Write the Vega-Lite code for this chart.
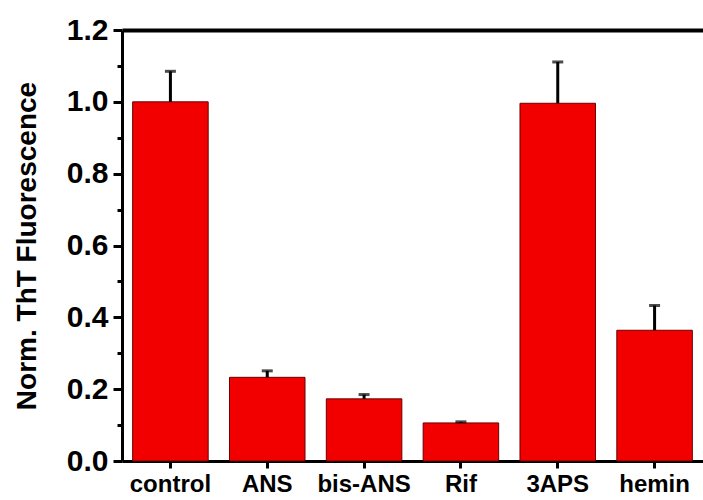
{
  "$schema": "https://vega.github.io/schema/vega-lite/v6.json",
  "autosize": "none",
  "width": 581,
  "height": 431,
  "padding": {"left": 122, "top": 30, "right": 0, "bottom": 39},
  "background": "white",
  "data": {
    "values": [
      {"sample": "control", "value": 1.0, "upper": 1.085},
      {"sample": "ANS", "value": 0.233, "upper": 0.251},
      {"sample": "bis-ANS", "value": 0.173, "upper": 0.185},
      {"sample": "Rif", "value": 0.106, "upper": 0.109},
      {"sample": "3APS", "value": 0.996, "upper": 1.111},
      {"sample": "hemin", "value": 0.364, "upper": 0.433}
    ]
  },
  "config": {
    "view": {"stroke": null},
    "font": "Liberation Sans",
    "axis": {
      "domainColor": "black",
      "domainWidth": 3,
      "tickColor": "black",
      "tickWidth": 3,
      "labelColor": "black",
      "labelFont": "Liberation Sans",
      "labelFontWeight": "bold",
      "titleFont": "Liberation Sans",
      "titleFontWeight": "bold",
      "titleColor": "black",
      "grid": false
    }
  },
  "layer": [
    {
      "mark": {"type": "bar", "color": "#f20000", "stroke": "#6a0000", "strokeWidth": 1},
      "encoding": {
        "x": {
          "field": "sample",
          "type": "nominal",
          "sort": null,
          "scale": {"paddingInner": 0.22, "paddingOuter": 0.11},
          "axis": {
            "title": null,
            "labelAngle": 0,
            "labelFontSize": 24,
            "tickSize": 7,
            "labelPadding": 4
          }
        },
        "y": {
          "field": "value",
          "type": "quantitative",
          "scale": {"domain": [0, 1.2], "nice": false},
          "axis": {
            "title": "Norm. ThT Fluorescence",
            "titleFontSize": 28,
            "titlePadding": 25,
            "values": [0, 0.2, 0.4, 0.6, 0.8, 1.0, 1.2],
            "format": ".1f",
            "labelFontSize": 30,
            "labelPadding": 5,
            "tickSize": 9
          }
        }
      }
    },
    {
      "mark": {"type": "rule", "color": "black", "strokeWidth": 3},
      "encoding": {
        "x": {"field": "sample", "type": "nominal", "sort": null, "axis": null},
        "y": {
          "field": "value",
          "type": "quantitative",
          "axis": {
            "orient": "left",
            "title": null,
            "values": [0.1, 0.3, 0.5, 0.7, 0.9, 1.1],
            "labels": false,
            "domain": false,
            "tickSize": 5
          }
        },
        "y2": {"field": "upper"}
      }
    },
    {
      "mark": {"type": "tick", "color": "black", "thickness": 3, "size": 11},
      "encoding": {
        "x": {
          "field": "sample",
          "type": "nominal",
          "sort": null,
          "axis": {"orient": "top", "title": null, "labels": false, "ticks": false, "domainWidth": 4}
        },
        "y": {"field": "upper", "type": "quantitative", "axis": null}
      }
    }
  ],
  "resolve": {"axis": {"x": "independent", "y": "independent"}}
}
